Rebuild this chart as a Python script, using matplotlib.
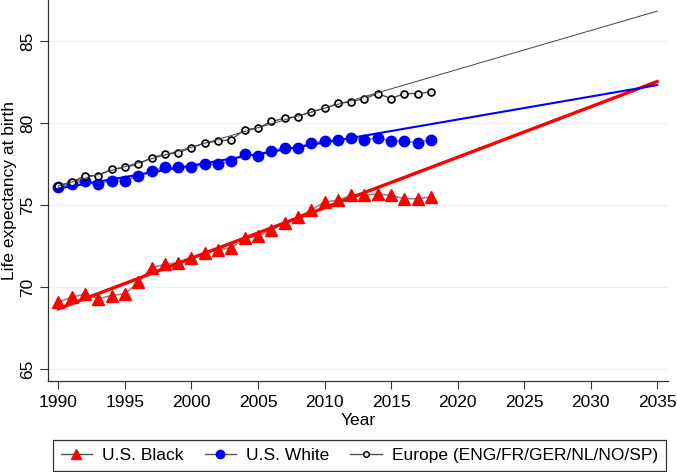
import numpy as np
import matplotlib
matplotlib.use("Agg")
import matplotlib.pyplot as plt
from matplotlib.lines import Line2D

plt.rcParams['font.family'] = ['Liberation Sans', 'DejaVu Sans']

# Life expectancy at birth, 1990-2018
years = np.arange(1990, 2019)
us_black = [69.1, 69.4, 69.6, 69.3, 69.5, 69.6, 70.3, 71.2, 71.4, 71.5,
            71.8, 72.1, 72.3, 72.4, 73.0, 73.1, 73.5, 73.9, 74.3, 74.7,
            75.2, 75.3, 75.6, 75.6, 75.7, 75.6, 75.4, 75.4, 75.5]
us_white = [76.1, 76.3, 76.5, 76.3, 76.5, 76.5, 76.8, 77.1, 77.3, 77.3,
            77.3, 77.5, 77.5, 77.7, 78.1, 78.0, 78.3, 78.5, 78.5, 78.8,
            78.9, 79.0, 79.1, 79.0, 79.1, 78.9, 78.9, 78.8, 79.0]
europe = [76.2, 76.4, 76.8, 76.8, 77.2, 77.3, 77.5, 77.9, 78.1, 78.2,
          78.5, 78.8, 78.9, 79.0, 79.6, 79.7, 80.1, 80.3, 80.4, 80.7,
          80.9, 81.2, 81.3, 81.5, 81.8, 81.5, 81.8, 81.8, 81.9]

fit_end = 2010        # linear trend fitted on 1990-2010
proj_years = np.array([1990, 2035])

fig = plt.figure(figsize=(6.77, 4.72), dpi=100)
ax = fig.add_axes([0.0705, 0.193, 0.916, 0.807])

grid_c = "#edf3f5"
for v in range(65, 90, 5):
    ax.axhline(v, color=grid_c, lw=1, zorder=0)

def trend(vals):
    mask = years <= fit_end
    b, a = np.polyfit(years[mask], np.array(vals)[mask], 1)
    return a + b * proj_years

# data series
ax.plot(years, us_black, color="#8c8c8c", lw=1.2, marker="^", ms=8.5,
        mfc="red", mec="red", zorder=3)
ax.plot(years, us_white, color="#8c8c8c", lw=1.2, marker="o", ms=7.5,
        mfc="blue", mec="blue", zorder=3)
ax.plot(years, europe, color="#555555", lw=1.0, marker="o", ms=5,
        mfc="#e6e6e6", mec="black", mew=1.2, zorder=4)

# trend projections
ax.plot(proj_years, trend(us_black), color="red", lw=2.4, zorder=5)
ax.plot(proj_years, trend(us_white), color="blue", lw=1.5, zorder=5)
ax.plot(proj_years, trend(europe), color="#444444", lw=0.7, zorder=5)

ax.set_xlim(1989.2, 2035.8)
ax.set_ylim(64.3, 87.5)
ax.set_xticks(range(1990, 2040, 5))
ax.set_yticks(range(65, 90, 5))
for lab in ax.get_yticklabels():
    lab.set_rotation(90)
    lab.set_va("center")
ax.tick_params(labelsize=12.5, length=6, width=0.8, color="#333333")
ax.tick_params(axis="x", pad=4)
ax.tick_params(axis="y", pad=3)
ax.spines["top"].set_visible(False)
ax.spines["right"].set_visible(False)
for s in ("left", "bottom"):
    ax.spines[s].set_linewidth(0.9)
    ax.spines[s].set_color("#333333")

ax.set_xlabel("Year", fontsize=12.5, labelpad=2)
ax.set_ylabel("Life expectancy at birth", fontsize=12.5, labelpad=2)

handles = [
    Line2D([], [], color="#555555", lw=1, marker="^", ms=7, mfc="red", mec="red"),
    Line2D([], [], color="#555555", lw=1, marker="o", ms=6, mfc="blue", mec="blue"),
    Line2D([], [], color="#555555", lw=1, marker="o", ms=4, mfc="#e6e6e6", mec="black"),
]
labels = ["U.S. Black", "U.S. White", "Europe (ENG/FR/GER/NL/NO/SP)"]
leg = fig.legend(handles, labels, loc="lower left", bbox_to_anchor=(0.078, 0.002),
                 borderaxespad=0, ncol=3, fontsize=12.5, frameon=True,
                 fancybox=False, edgecolor="black", handlelength=1.8,
                 columnspacing=1.2, handletextpad=0.6, borderpad=0.45)
leg.get_frame().set_linewidth(0.9)

fig.savefig("out.png", dpi=100)
